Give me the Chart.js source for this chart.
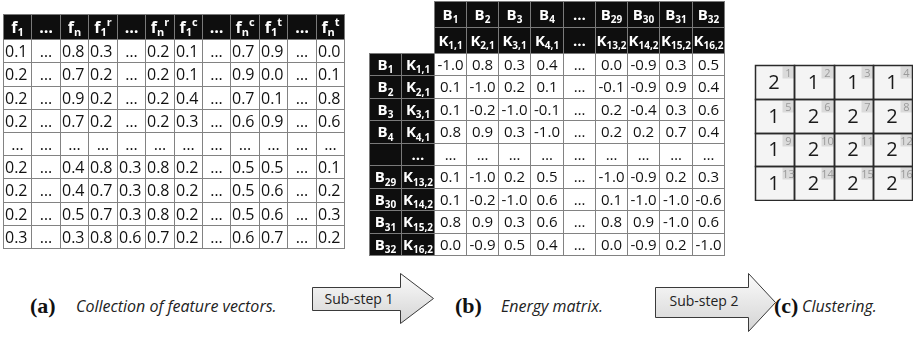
<!DOCTYPE html>
<html>
<head>
<meta charset="utf-8">
<script src="https://cdn.jsdelivr.net/npm/chart.js@4.4.1/dist/chart.umd.min.js"></script>
<style>
  html, body { margin: 0; padding: 0; background: #fff; }
  body { position: relative; width: 916px; height: 337px; overflow: hidden; }
  canvas { position: absolute; }
  svg { position: absolute; left: 0; top: 0; }
  .tag { font-family: "Liberation Serif", "DejaVu Serif", serif; font-weight: bold; font-size: 22px; fill: #111; }
  .txt { font-family: "Open Sans", "DejaVu Sans", sans-serif; font-style: italic; font-size: 16px; fill: #222; }
  .step { font-family: "Open Sans", "DejaVu Sans", sans-serif; font-size: 14px; fill: #222; }
</style>
</head>
<body>
<svg width="916" height="337">
  <defs>
    <linearGradient id="arrowFill" x1="0" y1="0" x2="0" y2="1">
      <stop offset="0" stop-color="#fbfbfb"/>
      <stop offset="1" stop-color="#d4d4d4"/>
    </linearGradient>
  </defs>
  <text class="tag" x="30" y="313">(a)</text>
  <text class="txt" x="76" y="312">Collection of feature vectors.</text>
  <polygon points="312.5,287.5 400.5,287.5 400.5,273.5 433.5,298.5 400.5,323.5 400.5,310.5 312.5,310.5"
           fill="url(#arrowFill)" stroke="#3a3a3a" stroke-width="1"/>
  <text class="step" x="359" y="304" text-anchor="middle">Sub-step 1</text>

  <text class="tag" x="455" y="313">(b)</text>
  <text class="txt" x="501" y="312">Energy matrix.</text>
  <polygon points="655.5,287.5 748.5,287.5 748.5,273.5 775.5,302.5 748.5,331.5 748.5,317.5 655.5,317.5"
           fill="url(#arrowFill)" stroke="#3a3a3a" stroke-width="1"/>
  <text class="step" x="704" y="306" text-anchor="middle">Sub-step 2</text>

  <text class="tag" x="774" y="313">(c)</text>
  <text class="txt" x="802" y="312">Clustering.</text>
</svg>

<canvas id="features" width="343" height="236" style="left:2px;top:13px"></canvas>
<canvas id="energy" width="357" height="256" style="left:368px;top:0px"></canvas>
<canvas id="clusters" width="159" height="137" style="left:754px;top:64px"></canvas>

<script>
// ---- (a) feature vectors: one row per block, null = elided column ----
const featureHeaders = ['f_1', '…', 'f_n', 'f_1^r', '…', 'f_n^r', 'f_1^c', '…', 'f_n^c', 'f_1^t', '…', 'f_n^t'];
const featureRows = [
  [0.1, null, 0.8, 0.3, null, 0.2, 0.1, null, 0.7, 0.9, null, 0.0],
  [0.2, null, 0.7, 0.2, null, 0.2, 0.1, null, 0.9, 0.0, null, 0.1],
  [0.2, null, 0.9, 0.2, null, 0.2, 0.4, null, 0.7, 0.1, null, 0.8],
  [0.2, null, 0.7, 0.2, null, 0.2, 0.3, null, 0.6, 0.9, null, 0.6],
  [null, null, null, null, null, null, null, null, null, null, null, null],
  [0.2, null, 0.4, 0.8, 0.3, 0.8, 0.2, null, 0.5, 0.5, null, 0.1],
  [0.2, null, 0.4, 0.7, 0.3, 0.8, 0.2, null, 0.5, 0.6, null, 0.2],
  [0.2, null, 0.5, 0.7, 0.3, 0.8, 0.2, null, 0.5, 0.6, null, 0.3],
  [0.3, null, 0.3, 0.8, 0.6, 0.7, 0.2, null, 0.6, 0.7, null, 0.2]
];

// ---- (b) energy matrix between blocks ----
const blockLabels = ['B_1', 'B_2', 'B_3', 'B_4', '…', 'B_29', 'B_30', 'B_31', 'B_32'];
const blockKeys = ['K_1,1', 'K_2,1', 'K_3,1', 'K_4,1', '…', 'K_13,2', 'K_14,2', 'K_15,2', 'K_16,2'];
const rowBlockLabels = ['B_1', 'B_2', 'B_3', 'B_4', '', 'B_29', 'B_30', 'B_31', 'B_32'];
const energyRows = [
  [-1.0, 0.8, 0.3, 0.4, null, 0.0, -0.9, 0.3, 0.5],
  [0.1, -1.0, 0.2, 0.1, null, -0.1, -0.9, 0.9, 0.4],
  [0.1, -0.2, -1.0, -0.1, null, 0.2, -0.4, 0.3, 0.6],
  [0.8, 0.9, 0.3, -1.0, null, 0.2, 0.2, 0.7, 0.4],
  [null, null, null, null, null, null, null, null, null],
  [0.1, -1.0, 0.2, 0.5, null, -1.0, -0.9, 0.2, 0.3],
  [0.1, -0.2, -1.0, 0.6, null, 0.1, -1.0, -1.0, -0.6],
  [0.8, 0.9, 0.3, 0.6, null, 0.8, 0.9, -1.0, 0.6],
  [0.0, -0.9, 0.5, 0.4, null, 0.0, -0.9, 0.2, -1.0]
];

// ---- (c) cluster assigned to each of the 16 blocks (row-major 4x4) ----
const clusterLabels = [2, 1, 1, 1, 1, 2, 2, 2, 1, 2, 2, 2, 1, 2, 2, 2];

const FONT = '"Open Sans", "DejaVu Sans", sans-serif';
const HEAD_A = 1.08;   // header row height relative to a body row, table (a)
const HEAD_B = 1.16;   // same for table (b)

const snap = v => Math.round(v) + 0.5;

function cellRect(chart, p) {
  const xs = chart.scales.x, ys = chart.scales.y;
  const x0 = snap(xs.getPixelForValue(p.x)), x1 = snap(xs.getPixelForValue(p.x + (p.w || 1)));
  const y0 = snap(ys.getPixelForValue(p.y)), y1 = snap(ys.getPixelForValue(p.y + (p.h || 1)));
  return { x0, y0, x1, y1, cx: (x0 + x1) / 2, cy: (y0 + y1) / 2 };
}

// label syntax: base_sub^sup  (e.g. f_1^r, K_13,2)
function drawRich(ctx, label, cx, cy, size, color, bold) {
  const m = label.match(/^([^_^]*)(?:_([^^]*))?(?:\^(.*))?$/);
  const base = m[1] || '', sub = m[2] || '', sup = m[3] || '';
  const small = Math.round(size * 0.68);
  const w = bold ? 'bold ' : '';
  ctx.font = `${w}${size}px ${FONT}`;
  const wb = ctx.measureText(base).width;
  ctx.font = `${w}${small}px ${FONT}`;
  const ws = ctx.measureText(sub).width, wp = ctx.measureText(sup).width;
  let x = cx - (wb + ws + wp) / 2;
  const base_y = cy + size * 0.36;
  ctx.fillStyle = color;
  ctx.textAlign = 'left';
  ctx.textBaseline = 'alphabetic';
  ctx.font = `${w}${size}px ${FONT}`;
  ctx.fillText(base, x, base_y);
  ctx.font = `${w}${small}px ${FONT}`;
  if (sub) ctx.fillText(sub, x + wb, base_y + size * 0.22);
  if (sup) ctx.fillText(sup, x + wb + ws, base_y - size * 0.42);
}

function fillCells(ctx, chart, pts, fill) {
  ctx.fillStyle = fill;
  pts.forEach(p => { const r = cellRect(chart, p); ctx.fillRect(r.x0, r.y0, r.x1 - r.x0, r.y1 - r.y0); });
}
function strokeCells(ctx, chart, pts, stroke, lw) {
  ctx.strokeStyle = stroke; ctx.lineWidth = lw;
  pts.forEach(p => { const r = cellRect(chart, p); ctx.strokeRect(r.x0, r.y0, r.x1 - r.x0, r.y1 - r.y0); });
}

function tableChart(id, datasets, xMin, xMax, yMin, yMax, draw) {
  return new Chart(document.getElementById(id), {
    type: 'scatter',
    data: { datasets },
    options: {
      responsive: false,
      animation: false,
      devicePixelRatio: 1,
      events: [],
      layout: { padding: 1 },
      plugins: { legend: { display: false }, tooltip: { enabled: false } },
      elements: { point: { radius: 0, hoverRadius: 0 } },
      scales: {
        x: { type: 'linear', min: xMin, max: xMax, display: false },
        y: { type: 'linear', min: yMin, max: yMax, reverse: true, display: false }
      }
    },
    plugins: [{ id: id + 'Cells', afterDatasetsDraw: chart => draw(chart, chart.ctx) }]
  });
}

const fmt = v => (v === null ? '…' : v.toFixed(1));

// ---------- (a) ----------
tableChart('features', [
  { label: 'header', data: featureHeaders.map((t, c) => ({ x: c, y: -HEAD_A, h: HEAD_A, t })) },
  { label: 'values', data: featureRows.flatMap((row, r) => row.map((v, c) => ({ x: c, y: r, v }))) }
], 0, featureHeaders.length, -HEAD_A, featureRows.length, (chart, ctx) => {
  const head = chart.data.datasets[0].data, body = chart.data.datasets[1].data;
  ctx.save();
  fillCells(ctx, chart, head, '#0e0e0e');
  fillCells(ctx, chart, body, '#ffffff');
  strokeCells(ctx, chart, body, '#828282', 1);
  strokeCells(ctx, chart, head, '#7a7a7a', 1);
  head.forEach(p => { const r = cellRect(chart, p); drawRich(ctx, p.t, r.cx, r.cy, 16, '#ffffff', true); });
  ctx.textBaseline = 'alphabetic';
  body.forEach(p => {
    const r = cellRect(chart, p);
    ctx.font = `16px ${FONT}`; ctx.fillStyle = '#111';
    if (p.v === null) { ctx.textAlign = 'center'; ctx.fillText('…', r.cx, r.cy + 5.5); }
    else { ctx.textAlign = 'left'; ctx.fillText(fmt(p.v), r.x0 + 1.5, r.cy + 5.8); }
  });
  ctx.restore();
});

// ---------- (b) ----------
tableChart('energy', [
  { label: 'column blocks', data: blockLabels.map((t, c) => ({ x: c, y: -2 * HEAD_B, h: HEAD_B, t })) },
  { label: 'column keys', data: blockKeys.map((t, c) => ({ x: c, y: -HEAD_B, h: HEAD_B, t })) },
  { label: 'row blocks', data: rowBlockLabels.map((t, r) => ({ x: -2, y: r, t })) },
  { label: 'row keys', data: blockKeys.map((t, r) => ({ x: -1, y: r, t })) },
  { label: 'energy', data: energyRows.flatMap((row, r) => row.map((v, c) => ({ x: c, y: r, v }))) }
], -2, blockLabels.length, -2 * HEAD_B, energyRows.length, (chart, ctx) => {
  const ds = chart.data.datasets;
  const heads = ds.slice(0, 4).flatMap(d => d.data), body = ds[4].data;
  ctx.save();
  fillCells(ctx, chart, heads, '#0e0e0e');
  fillCells(ctx, chart, body, '#ffffff');
  strokeCells(ctx, chart, body, '#828282', 1);
  strokeCells(ctx, chart, heads, '#7a7a7a', 1);
  heads.forEach(p => { const r = cellRect(chart, p); if (p.t) drawRich(ctx, p.t, r.cx, r.cy, 15, '#ffffff', true); });
  ctx.textAlign = 'center'; ctx.textBaseline = 'alphabetic';
  body.forEach(p => {
    const r = cellRect(chart, p);
    ctx.font = `15px ${FONT}`; ctx.fillStyle = '#111';
    ctx.fillText(fmt(p.v), r.cx, r.cy + 5.4);
  });
  ctx.restore();
});

// ---------- (c) ----------
tableChart('clusters', [
  { label: 'clusters', data: clusterLabels.map((v, i) => ({ x: i % 4, y: Math.floor(i / 4), v, n: i + 1 })) }
], 0, 4, 0, 4, (chart, ctx) => {
  const cells = chart.data.datasets[0].data;
  ctx.save();
  fillCells(ctx, chart, cells, '#f4f4f4');
  cells.forEach(p => {
    const r = cellRect(chart, p);
    ctx.fillStyle = '#dadada';
    ctx.fillRect(r.x0 + 27, r.y0 + 1, 12, 12);
    ctx.font = `11px ${FONT}`; ctx.fillStyle = '#9a9a9a';
    ctx.textAlign = 'center'; ctx.textBaseline = 'alphabetic';
    ctx.fillText(String(p.n), r.x0 + 33, r.y0 + 11);
    ctx.font = `20px ${FONT}`; ctx.fillStyle = '#1a1a1a';
    ctx.fillText(String(p.v), r.cx - 1, r.cy + 6);
  });
  strokeCells(ctx, chart, cells, '#2a2a2a', 1.5);
  ctx.restore();
});
</script>
</body>
</html>
